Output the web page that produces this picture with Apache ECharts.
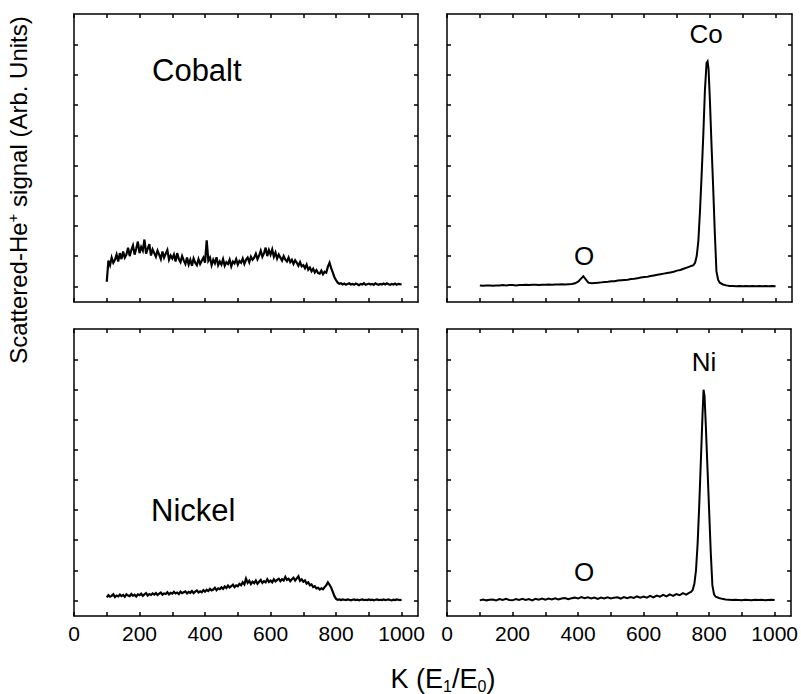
<!DOCTYPE html>
<html>
<head>
<meta charset="utf-8">
<script src="https://cdn.jsdelivr.net/npm/echarts@6/dist/echarts.min.js"></script>
<style>html,body{margin:0;padding:0;background:#fff;}#c{width:801px;height:694px;}</style>
</head>
<body>
<div id="c"></div>
<script>
// ---------- tick / label values ----------
var xTickValues = [0, 100, 200, 300, 400, 500, 600, 700, 800, 900, 1000];
var xLabelValues = [0, 200, 400, 600, 800, 1000];
var yTickValues = [0, 1, 2, 3, 4, 5, 6, 7, 8];

// ---------- Cobalt (top-left), K = 100..1000 step 5 ----------
var cobaltK = [];
for (var k = 100; k <= 1000; k += 5) cobaltK.push(k);
var cobaltSignal = [
  0.15, 0.85, 0.7, 0.95, 0.78, 0.88, 1.05, 0.82, 1.1, 0.9,
  1.15, 0.95, 1.05, 1.28, 1.0, 1.2, 1.35, 1.05, 1.25, 1.48,
  1.1, 1.3, 1.18, 1.55, 1.08, 1.25, 1.4, 1.02, 1.22, 1.1,
  0.98, 1.18, 1.05, 0.9, 1.15, 0.95, 1.08, 1.2, 0.88, 1.02,
  0.92, 1.05, 0.82, 1.1, 0.9, 0.8, 1.0, 0.86, 0.74, 0.95,
  0.72, 0.88, 0.68, 0.92, 0.78, 0.7, 0.9, 0.74, 0.85, 0.95,
  0.78, 1.52, 0.85, 0.95, 0.7, 0.88, 0.76, 0.96, 0.7, 0.82,
  0.72, 0.9, 0.68, 0.8, 0.74, 0.88, 0.66, 0.82, 0.76, 0.9,
  0.72, 0.84, 0.78, 0.92, 0.74, 0.88, 0.95, 0.8, 0.98, 0.88,
  0.95, 1.08, 0.9, 1.02, 1.18, 0.98, 1.1, 1.28, 1.0, 1.2,
  1.05, 1.22, 0.98, 1.12, 0.92, 1.05, 0.95, 0.85, 1.0, 0.88,
  0.82, 0.95, 0.8, 0.88, 0.74, 0.86, 0.78, 0.68, 0.8, 0.66,
  0.7, 0.6, 0.72, 0.55, 0.62, 0.5, 0.58, 0.46, 0.54, 0.44,
  0.42, 0.52, 0.4, 0.48, 0.45, 0.65, 0.78, 0.6, 0.45, 0.3,
  0.2, 0.12, 0.08, 0.1, 0.06, 0.09, 0.05, 0.08, 0.1, 0.06,
  0.08, 0.05, 0.09, 0.07, 0.04, 0.08, 0.06, 0.1, 0.05, 0.07,
  0.09, 0.06, 0.08, 0.05, 0.1, 0.07, 0.05, 0.08, 0.06, 0.09,
  0.06, 0.1, 0.07, 0.05, 0.08, 0.06, 0.09, 0.05, 0.08, 0.07,
  0.06
];

// ---------- Nickel (bottom-left), K = 100..1000 step 5 ----------
var nickelK = cobaltK.slice();
var nickelSignal = [
  0.1, 0.17, 0.12, 0.15, 0.2, 0.11, 0.16, 0.13, 0.19, 0.14,
  0.18, 0.12, 0.2, 0.16, 0.14, 0.21, 0.15, 0.19, 0.13, 0.2,
  0.17, 0.22, 0.15, 0.2, 0.24, 0.16, 0.21, 0.18, 0.23, 0.19,
  0.24, 0.18, 0.22, 0.26, 0.19, 0.23, 0.21, 0.27, 0.2, 0.25,
  0.22, 0.28, 0.23, 0.26, 0.21, 0.29, 0.24, 0.27, 0.3, 0.23,
  0.28, 0.25, 0.31, 0.24, 0.29, 0.33, 0.26, 0.3, 0.27, 0.34,
  0.29, 0.35, 0.31, 0.38, 0.33, 0.36, 0.42, 0.34, 0.4, 0.37,
  0.43, 0.38, 0.46, 0.41, 0.49, 0.43, 0.47, 0.52, 0.44, 0.5,
  0.47, 0.55, 0.5, 0.6, 0.53, 0.72, 0.58, 0.65, 0.54, 0.62,
  0.57, 0.66, 0.55, 0.62, 0.68, 0.58, 0.64, 0.6, 0.7, 0.61,
  0.66, 0.6, 0.7, 0.63, 0.68, 0.72, 0.64, 0.7, 0.66, 0.78,
  0.68, 0.72, 0.64, 0.7, 0.75, 0.66, 0.73, 0.8, 0.65, 0.7,
  0.62, 0.66, 0.56, 0.6, 0.5, 0.53, 0.44, 0.47, 0.4, 0.42,
  0.36, 0.4, 0.37, 0.44, 0.5, 0.6, 0.52, 0.42, 0.28, 0.14,
  0.05, 0.02, 0.03, 0.01, 0.03, 0.02, 0.01, 0.03, 0.02, 0.0,
  0.02, 0.03, 0.01, 0.02, 0.0, 0.02, 0.03, 0.01, 0.02, 0.01,
  0.03, 0.01, 0.02, 0.0, 0.02, 0.03, 0.01, 0.02, 0.01, 0.03,
  0.01, 0.02, 0.03, 0.01, 0.0, 0.02, 0.01, 0.03, 0.02, 0.01,
  0.02
];

// ---------- Co spectrum (top-right) ----------
var coK = [
  100, 110, 120, 130, 140, 150, 160, 170, 180, 190,
  200, 210, 220, 230, 240, 250, 260, 270, 280, 290,
  300, 310, 320, 330, 340, 350, 360, 370, 380, 390,
  400, 410, 415, 420, 430, 440, 450, 460, 470, 480, 490,
  500, 510, 520, 530, 540, 550, 560, 570, 580, 590,
  600, 610, 620, 630, 640, 650, 660, 670, 680, 690,
  700, 710, 720, 730, 740, 745, 750, 755, 760, 765, 770, 775, 780, 785, 790, 793, 796,
  800, 805, 810, 815, 820, 825, 830, 840, 850, 860, 870, 880, 890,
  900, 910, 920, 930, 940, 950, 960, 970, 980, 990, 1000
];
var coSignal = [
  0.03, 0.02, 0.03, 0.03, 0.02, 0.03, 0.03, 0.04, 0.03, 0.04,
  0.04, 0.03, 0.04, 0.04, 0.05, 0.04, 0.05, 0.05, 0.04, 0.05,
  0.05, 0.06, 0.05, 0.06, 0.06, 0.07, 0.06, 0.07, 0.08, 0.1,
  0.16, 0.28, 0.33, 0.26, 0.12, 0.1, 0.11, 0.12, 0.13, 0.14, 0.15,
  0.17, 0.17, 0.19, 0.2, 0.21, 0.22, 0.24, 0.25, 0.27, 0.29,
  0.31, 0.32, 0.34, 0.36, 0.38, 0.4, 0.42, 0.44, 0.46, 0.48,
  0.52, 0.54, 0.58, 0.62, 0.66, 0.68, 0.7, 0.78, 1.0, 1.5, 2.5, 3.7, 5.0, 6.5, 7.4, 7.45, 7.2,
  6.2, 4.7, 3.3, 1.8, 0.5, 0.22, 0.12, 0.06, 0.03, 0.01, 0.01, 0.0, 0.01,
  0.0, 0.01, 0.0, 0.01, 0.0, 0.01, 0.0, 0.01, 0.0, 0.01, 0.0
];

// ---------- Ni spectrum (bottom-right) ----------
var niK = [
  100, 110, 120, 130, 140, 150, 160, 170, 180, 190,
  200, 210, 220, 230, 240, 250, 260, 270, 280, 290,
  300, 310, 320, 330, 340, 350, 360, 370, 380, 390,
  400, 410, 420, 430, 440, 450, 460, 470, 480, 490,
  500, 510, 520, 530, 540, 550, 560, 570, 580, 590,
  600, 610, 620, 630, 640, 650, 660, 670, 680, 690,
  700, 710, 720, 730, 740, 745, 750, 755, 760, 765, 770, 775, 780, 783, 786,
  790, 795, 800, 805, 810, 815, 820, 830, 840, 850, 860, 870, 880, 890,
  900, 910, 920, 930, 940, 950, 960, 970, 980, 990, 1000
];
var niSignal = [
  0.0, 0.03, 0.0, 0.02, 0.03, 0.0, 0.04, 0.01, 0.05, 0.01,
  0.0, 0.04, 0.01, 0.05, 0.01, 0.04, 0.0, 0.05, 0.02, 0.06,
  0.02, 0.06, 0.03, 0.07, 0.03, 0.06, 0.08, 0.04, 0.07, 0.09,
  0.06, 0.11, 0.07, 0.1, 0.06, 0.09, 0.05, 0.09, 0.06, 0.1,
  0.06, 0.09, 0.1, 0.06, 0.11, 0.07, 0.11, 0.08, 0.13, 0.09,
  0.13, 0.09, 0.15, 0.1, 0.16, 0.12, 0.18, 0.13, 0.2, 0.15,
  0.21, 0.17, 0.24, 0.19, 0.26, 0.28, 0.35, 0.55, 1.0, 1.9, 3.2, 4.7, 6.2, 7.0, 6.8,
  5.8, 4.4, 3.0, 1.6, 0.5, 0.2, 0.12, 0.08, 0.05, 0.03, 0.02, 0.01, 0.02, 0.01,
  0.0, 0.02, 0.01, 0.0, 0.02, 0.01, 0.02, 0.0, 0.01, 0.02, 0.01
];

// ---------- labels ----------
var panelNames = ['Cobalt', 'Nickel'];
var peakLabels = ['Co', 'O', 'Ni', 'O'];
var xTitleParts = ['K (E', '1', '/E', '0', ')'];
var yTitleParts = ['Scattered-He', '+', ' signal (Arb. Units)'];

function pairs(xs, ys) {
  var out = [];
  for (var i = 0; i < xs.length && i < ys.length; i++) out.push([xs[i], ys[i]]);
  return out;
}

var FONT = 'Liberation Sans, Arial, Helvetica, sans-serif';
var grids = [
  { left: 74, top: 14, width: 344, height: 288 },
  { left: 447, top: 14, width: 345, height: 288 },
  { left: 74, top: 329, width: 344, height: 287 },
  { left: 447, top: 329, width: 345, height: 287 }
];
var lineCol = { color: '#000', width: 1.5 };
var xAxes = [], yAxes = [];
grids.forEach(function (g, i) {
  var showLab = i >= 2;
  ['bottom', 'top'].forEach(function (pos) {
    xAxes.push({
      type: 'value', gridIndex: i, position: pos, min: 0, max: 1050,
      axisLine: { show: true, onZero: false, lineStyle: lineCol },
      axisTick: { show: true, inside: true, length: 4, customValues: xTickValues, lineStyle: lineCol },
      axisLabel: { show: showLab && pos === 'bottom', customValues: xLabelValues, color: '#000', fontSize: 21, fontFamily: FONT, margin: 7,
        formatter: function (v) { return String(v); } },
      splitLine: { show: false }
    });
  });
  ['left', 'right'].forEach(function (pos) {
    yAxes.push({
      type: 'value', gridIndex: i, position: pos, min: -0.52, max: 9.02,
      axisLine: { show: true, onZero: false, lineStyle: lineCol },
      axisTick: { show: true, inside: true, length: 4, customValues: yTickValues, lineStyle: lineCol },
      axisLabel: { show: false },
      splitLine: { show: false }
    });
  });
});

var seriesData = [
  pairs(cobaltK, cobaltSignal),
  pairs(coK, coSignal),
  pairs(nickelK, nickelSignal),
  pairs(niK, niSignal)
];
var series = seriesData.map(function (d, i) {
  return {
    type: 'line', xAxisIndex: i * 2, yAxisIndex: i * 2, data: d,
    showSymbol: false, symbol: 'none', animation: false, silent: true,
    lineStyle: { color: '#000', width: i % 2 ? 2 : 2.2, join: 'miter' }
  };
});

function txt(x, y, s, size, align) {
  return { type: 'text', x: x, y: y, silent: true,
    style: { text: s, font: size + 'px ' + FONT, fill: '#000', align: align || 'center', verticalAlign: 'middle' } };
}

var graphics = [
  txt(152, 70, panelNames[0], 31, 'left'),
  txt(151, 510, panelNames[1], 31, 'left'),
  txt(706, 34, peakLabels[0], 26),
  txt(584, 256, peakLabels[1], 26),
  txt(704, 362, peakLabels[2], 26),
  txt(584, 572, peakLabels[3], 26),
  { type: 'text', x: 443, y: 679, silent: true,
    style: { text: '{a|' + xTitleParts[0] + '}{s|' + xTitleParts[1] + '}{a|' + xTitleParts[2] + '}{s|' + xTitleParts[3] + '}{a|' + xTitleParts[4] + '}',
      align: 'center', verticalAlign: 'middle', fill: '#000',
      rich: { a: { fontSize: 27, fontFamily: FONT, fill: '#000' }, s: { fontSize: 16, fontFamily: FONT, fill: '#000', padding: [14, 0, 0, 0] } } } },
  { type: 'text', x: 18, y: 190, rotation: Math.PI / 2, silent: true,
    style: { text: '{a|' + yTitleParts[0] + '}{p|' + yTitleParts[1] + '}{a|' + yTitleParts[2] + '}',
      align: 'center', verticalAlign: 'middle', fill: '#000',
      rich: { a: { fontSize: 24, fontFamily: FONT, fill: '#000' }, p: { fontSize: 15, fontFamily: FONT, fill: '#000', padding: [0, 0, 12, 0] } } } }
];

var chart = echarts.init(document.getElementById('c'), null, { renderer: 'svg' });
chart.setOption({
  animation: false,
  backgroundColor: '#fff',
  grid: grids,
  xAxis: xAxes,
  yAxis: yAxes,
  series: series,
  graphic: graphics
});
</script>
</body>
</html>
